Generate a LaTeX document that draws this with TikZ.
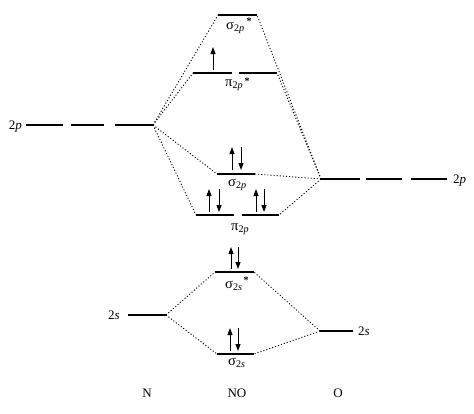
\documentclass[tikz,border=0pt]{standalone}
\usepackage{fontspec}
\setmainfont{Liberation Serif}
\usetikzlibrary{arrows.meta}
\newcommand{\mosub}[2]{#1\textsubscript{2\textit{#2}}}
\begin{document}
\begin{tikzpicture}[x=1pt,y=-1pt,
 level/.style={line width=2.3pt},
 conn/.style={line width=0.9pt, dash pattern=on 1.1pt off 2pt},
 spin/.style={line width=1pt,-{Triangle[length=7pt,width=5pt]}},
 lab/.style={font=\fontsize{13}{15}\selectfont, inner sep=0pt},
 mo/.style={font=\fontsize{14.5}{16}\selectfont, inner sep=0pt, anchor=base west},
 ast/.style={font=\fontsize{10}{11}\selectfont\bfseries, inner sep=0pt},
]
\useasboundingbox (0,0) rectangle (474,413);
% N 2p
\coordinate (Na1) at (26,125); \coordinate (Nb1) at (63,125);
\coordinate (Na2) at (71,125); \coordinate (Nb2) at (104,125);
\coordinate (Na3) at (115,125); \coordinate (Np) at (153,125);
\draw[level] (Na1) -- (Nb1); \draw[level] (Na2) -- (Nb2); \draw[level] (Na3) -- (Np);
% O 2p
\coordinate (Op) at (321,179); \coordinate (Ob1) at (360,179);
\coordinate (Oa2) at (366,179); \coordinate (Ob2) at (402,179);
\coordinate (Oa3) at (411,179); \coordinate (Ob3) at (447,179);
\draw[level] (Op) -- (Ob1); \draw[level] (Oa2) -- (Ob2); \draw[level] (Oa3) -- (Ob3);
% sigma* 2p
\coordinate (sApL) at (218,15); \coordinate (sApR) at (257,15);
\draw[level] (sApL) -- (sApR);
% pi* 2p
\coordinate (pApL) at (193,73); \coordinate (pApM1) at (232,73);
\coordinate (pApM2) at (239,73); \coordinate (pApR) at (277,73);
\draw[level] (pApL) -- (pApM1); \draw[level] (pApM2) -- (pApR);
% sigma 2p
\coordinate (sBpL) at (217,174); \coordinate (sBpR) at (255,174);
\draw[level] (sBpL) -- (sBpR);
% pi 2p
\coordinate (pBpL) at (196,215); \coordinate (pBpM1) at (234,215);
\coordinate (pBpM2) at (242,215); \coordinate (pBpR) at (279,215);
\draw[level] (pBpL) -- (pBpM1); \draw[level] (pBpM2) -- (pBpR);
% sigma* 2s
\coordinate (sAsL) at (215,272); \coordinate (sAsR) at (254,272);
\draw[level] (sAsL) -- (sAsR);
% sigma 2s
\coordinate (sBsL) at (217,354); \coordinate (sBsR) at (254,354);
\draw[level] (sBsL) -- (sBsR);
% N 2s, O 2s
\coordinate (Nsa) at (128,315); \coordinate (Ns) at (166,315);
\draw[level] (Nsa) -- (Ns);
\coordinate (Os) at (320,331); \coordinate (Osb) at (353,331);
\draw[level] (Os) -- (Osb);
% connectors
\draw[conn] (Np) -- (sApL); \draw[conn] (Np) -- (pApL);
\draw[conn] (Np) -- (sBpL); \draw[conn] (Np) -- (pBpL);
\draw[conn] (Op) -- (sApR); \draw[conn] (Op) -- (pApR);
\draw[conn] (Op) -- (sBpR); \draw[conn] (Op) -- (pBpR);
\draw[conn] (Ns) -- (sAsL); \draw[conn] (Ns) -- (sBsL);
\draw[conn] (Os) -- (sAsR); \draw[conn] (Os) -- (sBsR);
% electrons
\draw[spin] (213,70) -- (213,47);
\draw[spin] (232,170) -- (232,147); \draw[spin] (241,147) -- (241,170);
\draw[spin] (209,212) -- (209,189); \draw[spin] (219,189) -- (219,212);
\draw[spin] (256,212) -- (256,189); \draw[spin] (264,189) -- (264,212);
\draw[spin] (231,269) -- (231,247); \draw[spin] (238,247) -- (238,269);
\draw[spin] (230,351) -- (230,328); \draw[spin] (238,328) -- (238,351);
% labels
\node[lab,anchor=base east] (lNp) at (22,129) {2\textit{p}};
\node[lab,anchor=base west] (lOp) at (453,183) {2\textit{p}};
\node[lab,anchor=base east] (lNs) at (120,319) {2\textit{s}};
\node[lab,anchor=base west] (lOs) at (358,335) {2\textit{s}};
\node[mo] (lsAp) at (226,29) {\mosub{σ}{p}};
\node[ast] (asAp) at (249,21) {*};
\node[mo] (lpAp) at (225,86) {\mosub{π}{p}};
\node[ast] (apAp) at (247,81) {*};
\node[mo] (lsBp) at (228,186) {\mosub{σ}{p}};
\node[mo] (lpBp) at (231,230) {\mosub{π}{p}};
\node[mo] (lsAs) at (225,288) {\mosub{σ}{s}};
\node[ast] (asAs) at (246,280) {*};
\node[mo] (lsBs) at (228,365) {\mosub{σ}{s}};
\node[lab,anchor=base] (lN) at (147,397) {N};
\node[lab,anchor=base] (lNO) at (237,397) {NO};
\node[lab,anchor=base] (lO) at (338,397) {O};
\end{tikzpicture}
\end{document}
